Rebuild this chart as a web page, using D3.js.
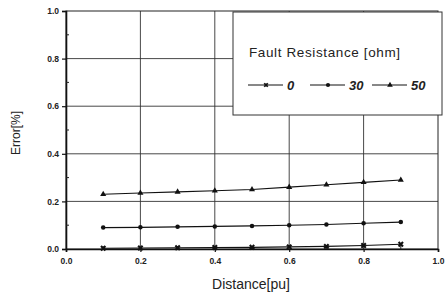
<!DOCTYPE html>
<html>
<head>
<meta charset="utf-8">
<script src="https://cdn.jsdelivr.net/npm/d3@7"></script>
<style>
  body { margin: 0; background: #fff; }
  text { font-family: Arial, "Liberation Sans", sans-serif; }
</style>
</head>
<body>
<div id="wrapper"></div>
<script>
const distance = [0.1, 0.2, 0.3, 0.4, 0.5, 0.6, 0.7, 0.8, 0.9]
const err0 = [0.003, 0.004, 0.005, 0.006, 0.007, 0.009, 0.011, 0.015, 0.02]
const err30 = [0.09, 0.091, 0.093, 0.095, 0.097, 0.1, 0.103, 0.108, 0.113]
const err50 = [0.23, 0.235, 0.24, 0.245, 0.25, 0.26, 0.27, 0.28, 0.29]
const seriesNames = ['0', '30', '50']
const tickValues = [0, 0.2, 0.4, 0.6, 0.8, 1.0]

const series = [
    { name: seriesNames[0], values: err0, symbol: d3.symbolCross, rot: 45 },
    { name: seriesNames[1], values: err30, symbol: d3.symbolCircle, rot: 0 },
    { name: seriesNames[2], values: err50, symbol: d3.symbolTriangle, rot: 0 }
]

let dimensions = {
    width: 447,
    height: 293,
    margin: { top: 11, right: 9, bottom: 44, left: 66 }
}
dimensions.boundedWidth = dimensions.width - dimensions.margin.left - dimensions.margin.right
dimensions.boundedHeight = dimensions.height - dimensions.margin.top - dimensions.margin.bottom

const svg = d3.select('#wrapper').append('svg')
    .attr('width', dimensions.width)
    .attr('height', dimensions.height)

const bounds = svg.append('g')
    .attr('transform', `translate(${dimensions.margin.left},${dimensions.margin.top})`)

const xScale = d3.scaleLinear().domain([0, 1]).range([0, dimensions.boundedWidth])
const yScale = d3.scaleLinear().domain([0, 1]).range([dimensions.boundedHeight, 0])

// grid
bounds.append('g').selectAll('line')
    .data(tickValues.slice(1, -1))
    .join('line')
    .attr('x1', d => xScale(d)).attr('x2', d => xScale(d))
    .attr('y1', 0).attr('y2', dimensions.boundedHeight)
    .attr('stroke', '#333').attr('stroke-width', 0.9)
bounds.append('g').selectAll('line')
    .data(tickValues.slice(1, -1))
    .join('line')
    .attr('y1', d => yScale(d)).attr('y2', d => yScale(d))
    .attr('x1', 0).attr('x2', dimensions.boundedWidth)
    .attr('stroke', '#333').attr('stroke-width', 0.9)

// frame
bounds.append('rect')
    .attr('width', dimensions.boundedWidth)
    .attr('height', dimensions.boundedHeight)
    .attr('fill', 'none').attr('stroke', '#222').attr('stroke-width', 1)

// axes
const xAxis = d3.axisBottom(xScale).tickValues(tickValues).tickFormat(d3.format('.1f')).tickSize(3).tickPadding(6)
const yAxis = d3.axisLeft(yScale).tickValues(tickValues).tickFormat(d3.format('.1f')).tickSize(4).tickPadding(3)

const xg = bounds.append('g')
    .attr('transform', `translate(0,${dimensions.boundedHeight})`)
    .call(xAxis)
const yg = bounds.append('g').call(yAxis)

;[xg, yg].forEach(g => {
    g.select('.domain').attr('stroke', '#111').attr('stroke-width', 1.6)
    g.selectAll('.tick line').attr('stroke', '#111').attr('stroke-width', 1.2)
    g.selectAll('text').attr('font-size', 8.5).attr('font-weight', 'bold').attr('fill', '#222')
})

// minor ticks
const minor = d3.range(0.1, 1, 0.2)
bounds.append('g').selectAll('line').data(minor).join('line')
    .attr('x1', d => xScale(d)).attr('x2', d => xScale(d))
    .attr('y1', dimensions.boundedHeight).attr('y2', dimensions.boundedHeight - 3)
    .attr('stroke', '#222')
bounds.append('g').selectAll('line').data(minor).join('line')
    .attr('y1', d => yScale(d)).attr('y2', d => yScale(d))
    .attr('x1', 0).attr('x2', 3)
    .attr('stroke', '#222')

// labels
svg.append('text')
    .attr('x', 251)
    .attr('y', 289)
    .attr('text-anchor', 'middle')
    .attr('font-size', 14)
    .attr('fill', '#222')
    .text('Distance[pu]')
svg.append('text')
    .attr('transform', `translate(20,133) rotate(-90)`)
    .attr('text-anchor', 'middle')
    .attr('font-size', 12)
    .attr('fill', '#222')
    .text('Error[%]')

// legend box
const legend = svg.append('g')
legend.append('rect')
    .attr('x', 233).attr('y', 12)
    .attr('width', 209).attr('height', 103)
    .attr('fill', '#fff').attr('stroke', '#333').attr('stroke-width', 1)
legend.append('text')
    .attr('x', 249).attr('y', 57)
    .attr('font-size', 13.5)
    .attr('textLength', 151)
    .attr('fill', '#222')
    .text('Fault Resistance [ohm]')

// series
const line = d3.line()
    .x((d, i) => xScale(distance[i]))
    .y(d => yScale(d))

series.forEach((s, si) => {
    bounds.append('path')
        .datum(s.values)
        .attr('d', line)
        .attr('fill', 'none')
        .attr('stroke', '#111')
        .attr('stroke-width', 1.1)
    bounds.append('g').selectAll('path')
        .data(s.values)
        .join('path')
        .attr('d', d3.symbol().type(s.symbol).size(si === 0 ? 22 : 16))
        .attr('transform', (d, i) => `translate(${xScale(distance[i])},${yScale(d)}) rotate(${s.rot})`)
        .attr('fill', '#111')

    const lx = 248 + si * 62
    legend.append('line')
        .attr('x1', lx).attr('x2', lx + 35)
        .attr('y1', 85).attr('y2', 85)
        .attr('stroke', '#111').attr('stroke-width', 1)
    legend.append('path')
        .attr('d', d3.symbol().type(s.symbol).size(14))
        .attr('transform', `translate(${lx + 18},85) rotate(${s.rot})`)
        .attr('fill', '#111')
    legend.append('text')
        .attr('x', lx + 39).attr('y', 90)
        .attr('font-size', 13)
        .attr('font-style', 'italic')
        .attr('font-weight', 'bold')
        .attr('fill', '#222')
        .text(s.name)
})
</script>
</body>
</html>
